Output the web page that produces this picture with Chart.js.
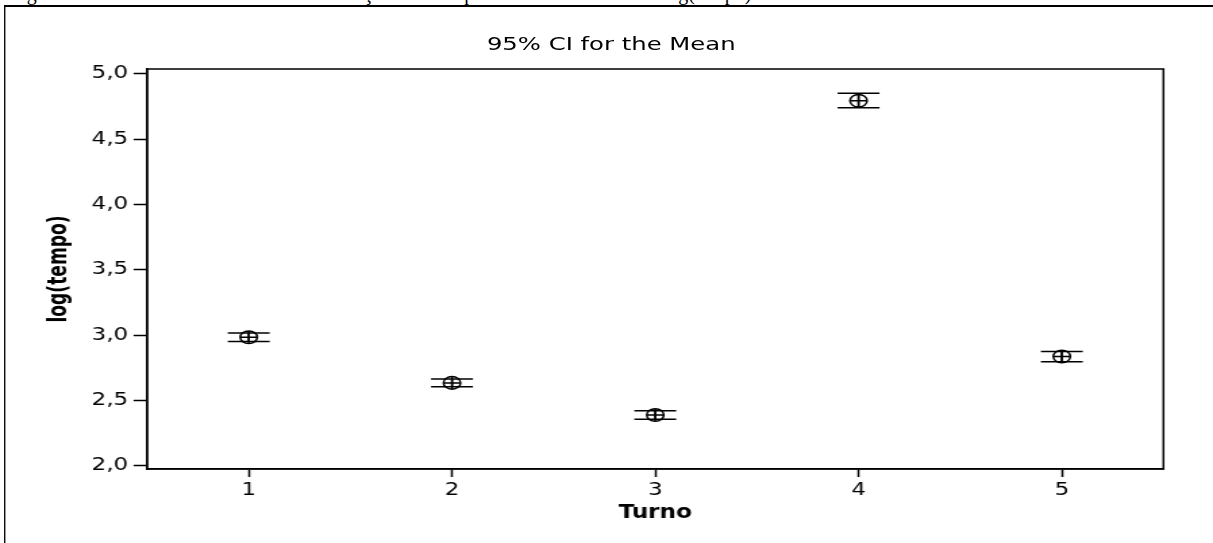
<!DOCTYPE html>
<html lang="pt">
<head>
<meta charset="utf-8">
<script src="https://cdn.jsdelivr.net/npm/chart.js@4/dist/chart.umd.min.js"></script>
<style>
    html, body { margin: 0; padding: 0; background: #fff; overflow: hidden; }
    body { width: 1213px; height: 543px; position: relative; }
    /* legenda da figura, cortada no topo da página */
    #legenda {
        position: absolute; left: 10px; top: -17px;
        font: 20px/20px 'Liberation Serif', 'Times New Roman', serif;
        color: #000; white-space: nowrap;
    }
    /* o grafico original vem esticado na horizontal */
    #painel {
        position: absolute; left: 0; top: 0;
        width: 898px; height: 543px;
        transform: scaleX(1.3508); transform-origin: 0 0;
    }
    #moldura {
        position: absolute; left: 3px; top: 5px; right: -20px; bottom: -20px;
        border-left: 1.5px solid #000; border-top: 2px solid #000;
    }
    #titulo {
        position: absolute; left: 0; top: 34px; width: 905px;
        text-align: center; font: 18px/20px 'DejaVu Sans', Verdana, sans-serif; color: #000;
    }
    canvas { position: absolute; left: 0; top: 0; }
</style>
</head>
<body>
<div id="legenda">Figura 7 – Gráfico dos intervalos de confiança da média por turno de trabalho do log(tempo)</div>
<div id="painel">
    <div id="moldura"></div>
    <div id="titulo">95% CI for the Mean</div>
    <canvas id="ciChart" width="898" height="543"></canvas>
</div>
<script>
// Dados: média de log(tempo) por turno e limites do IC 95%
const turnos = [1, 2, 3, 4, 5]
const medias = [2.985, 2.636, 2.390, 4.795, 2.838]
const limInf = [2.952, 2.607, 2.357, 4.741, 2.797]
const limSup = [3.018, 2.666, 2.423, 4.852, 2.877]
const ticksY = [2.0, 2.5, 3.0, 3.5, 4.0, 4.5, 5.0]

const preto = '#000'
const fonteEixo = { family: "'DejaVu Sans', Verdana, sans-serif", size: 17 }
const fonteTitulo = { family: "'DejaVu Sans Condensed', 'DejaVu Sans', sans-serif", size: 19, weight: 'bold' }

const pontos = arr => turnos.map((t, i) => ({ x: t, y: arr[i] }))

// segmento vertical de cada intervalo (null separa os turnos)
const hastes = turnos.flatMap((t, i) => [
    { x: t, y: limInf[i] },
    { x: t, y: limSup[i] },
    { x: t, y: null }
])

// contorno da área do gráfico (lados de cima e da direita)
const caixa = {
    id: 'caixa',
    afterDraw(chart) {
        const { ctx, chartArea: a } = chart
        ctx.save()
        ctx.strokeStyle = preto
        ctx.lineWidth = 1.5
        ctx.strokeRect(a.left, a.top, a.right - a.left, a.bottom - a.top)
        ctx.restore()
    }
}

const ctx = document.getElementById('ciChart').getContext('2d')

new Chart(ctx, {
    type: 'scatter',
    data: {
        datasets: [
            {
                type: 'line',
                data: hastes,
                borderColor: preto,
                borderWidth: 1.5,
                pointRadius: 0,
                spanGaps: false
            },
            {
                data: pontos(limSup),
                pointStyle: 'line',
                pointRadius: 15.5,
                borderColor: preto,
                borderWidth: 1.5
            },
            {
                data: pontos(limInf),
                pointStyle: 'line',
                pointRadius: 15.5,
                borderColor: preto,
                borderWidth: 1.5
            },
            {
                data: pontos(medias),
                pointStyle: 'circle',
                pointRadius: 6.3,
                backgroundColor: 'rgba(0,0,0,0)',
                borderColor: preto,
                borderWidth: 1.5
            },
            {
                data: pontos(medias),
                pointStyle: 'cross',
                pointRadius: 6.3,
                borderColor: preto,
                borderWidth: 1.5
            }
        ]
    },
    options: {
        responsive: false,
        animation: false,
        events: [],
        layout: { padding: { left: 10, top: 69, right: 36.7, bottom: 0 } },
        plugins: {
            legend: { display: false },
            tooltip: { enabled: false }
        },
        scales: {
            x: {
                type: 'linear',
                min: 0.5,
                max: 5.5,
                afterFit: s => { s.height = 74 },
                afterBuildTicks: s => { s.ticks = turnos.map(v => ({ value: v })) },
                ticks: {
                    color: preto,
                    font: fonteEixo,
                    padding: 3,
                    callback: v => String(v)
                },
                grid: { drawOnChartArea: false, color: preto, tickLength: 8, tickWidth: 1.5 },
                border: { color: preto, width: 1.5 },
                title: {
                    display: true, text: 'Turno', color: preto, font: fonteTitulo,
                    padding: { top: 0, bottom: 19 }
                }
            },
            y: {
                min: 1.977,
                max: 5.038,
                afterFit: s => { s.width = 98.9 },
                afterBuildTicks: s => { s.ticks = ticksY.map(v => ({ value: v })) },
                ticks: {
                    color: preto,
                    font: fonteEixo,
                    padding: 4,
                    callback: v => v.toFixed(1).replace('.', ',')
                },
                grid: { drawOnChartArea: false, color: preto, tickLength: 10, tickWidth: 1.5 },
                border: { color: preto, width: 1.5 },
                title: {
                    display: true, text: 'log(tempo)', color: preto, font: fonteTitulo,
                    padding: { top: 23, bottom: 0 }
                }
            }
        }
    },
    plugins: [caixa]
})
</script>
</body>
</html>
